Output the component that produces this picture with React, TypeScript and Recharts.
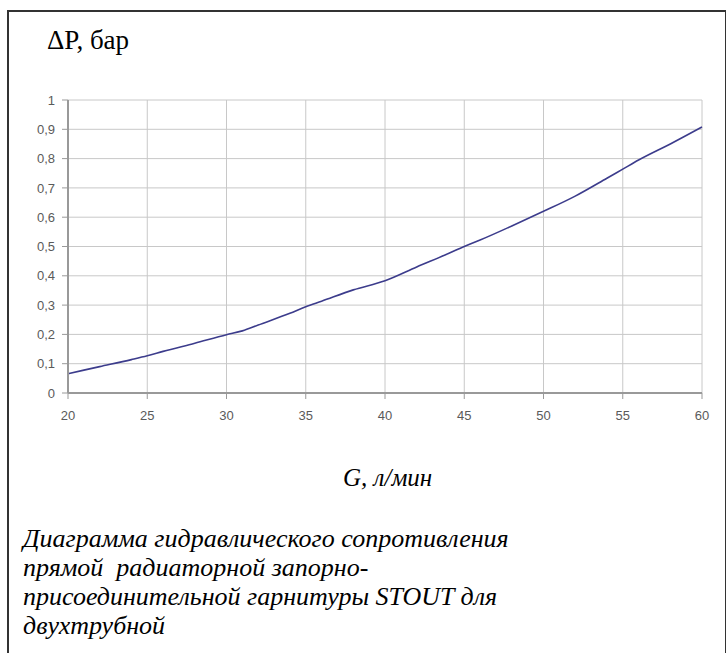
import React from 'react';
import { LineChart, Line, XAxis, YAxis, CartesianGrid } from 'recharts';

// flow rate G, l/min and pressure drop dP, bar
const flowRates = [20, 22, 24, 25, 26, 28, 30, 31, 32, 34, 35, 36, 38, 40, 42, 44, 45, 46, 48, 50, 52, 54, 55, 56, 58, 60];
const pressureDrops = [0.066, 0.09, 0.114, 0.127, 0.142, 0.17, 0.199, 0.212, 0.232, 0.272, 0.294, 0.313, 0.352, 0.383, 0.43, 0.476, 0.5, 0.522, 0.57, 0.62, 0.672, 0.733, 0.764, 0.795, 0.85, 0.908];

const xTicks = [20, 25, 30, 35, 40, 45, 50, 55, 60];
const yTicks = [0, 0.1, 0.2, 0.3, 0.4, 0.5, 0.6, 0.7, 0.8, 0.9, 1];

const yLabel = 'ΔP, бар';
const xLabel = 'G, л/мин';
const captionLines = [
  'Диаграмма гидравлического сопротивления',
  'прямой  радиаторной запорно-',
  'присоединительной гарнитуры STOUT для',
  'двухтрубной',
];

const data = flowRates.map((g, i) => ({ g, dp: pressureDrops[i] }));

const tickStyle = { fontFamily: 'Liberation Sans', fontSize: 13, fill: '#5a5a5a' };

const fmtY = (v: number) => (v === 0 || v === 1 ? String(v) : v.toFixed(1).replace('.', ','));

const textBase: React.CSSProperties = {
  position: 'absolute',
  fontFamily: 'Times New Roman',
  color: '#000',
  whiteSpace: 'pre',
  margin: 0,
};

export default function App() {
  return (
    <div style={{ position: 'fixed', left: 0, top: 0, width: 726, height: 653, overflow: 'hidden', background: '#fff' }}>
      <div style={{ position: 'absolute', left: 0, top: 0 }}>
        <LineChart
          width={726}
          height={440}
          data={data}
          margin={{ top: 100, right: 24, left: 0, bottom: 17 }}
        >
          <CartesianGrid stroke="#c8c8c8" strokeWidth={1} />
          <XAxis
            dataKey="g"
            type="number"
            domain={[20, 60]}
            ticks={xTicks}
            height={30}
            tick={tickStyle}
            tickSize={6}
            tickMargin={12}
            stroke="#999"
            strokeWidth={2}
            tickLine={{ stroke: '#999', strokeWidth: 1 }}
          />
          <YAxis
            type="number"
            domain={[0, 1]}
            ticks={yTicks}
            width={68}
            tick={tickStyle}
            tickSize={6}
            tickMargin={7}
            tickFormatter={fmtY}
            stroke="#999"
            strokeWidth={2}
            tickLine={{ stroke: '#999', strokeWidth: 1 }}
          />
          <Line
            type="monotone"
            dataKey="dp"
            stroke="#3c3c8c"
            strokeWidth={1.6}
            dot={false}
            isAnimationActive={false}
          />
        </LineChart>
      </div>

      {/* frame */}
      <div style={{ position: 'absolute', left: 7, top: 10, width: 716, height: 700, border: '2px solid #333', boxSizing: 'content-box' }} />

      <div style={{ ...textBase, left: 47, top: 27, fontSize: 27, lineHeight: 1 }}>{yLabel}</div>
      <div style={{ ...textBase, left: 343, top: 465, fontSize: 25, lineHeight: 1, fontStyle: 'italic' }}>{xLabel}</div>
      <div style={{ ...textBase, left: 23, top: 524, fontSize: 26, lineHeight: '29px', fontStyle: 'italic' }}>
        {captionLines.map((line, i) => (
          <div key={i}>{line}</div>
        ))}
      </div>
    </div>
  );
}
